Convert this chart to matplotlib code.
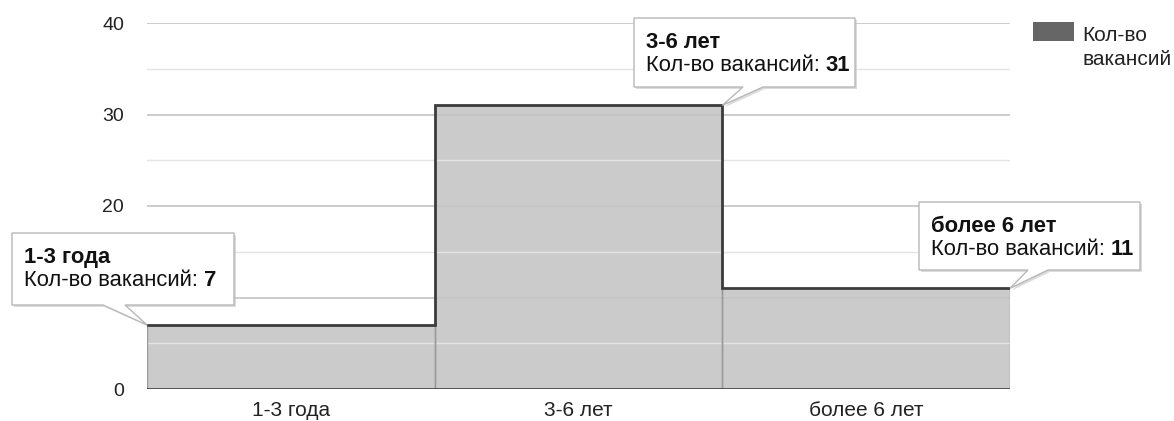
import matplotlib
matplotlib.use("Agg")
import matplotlib.pyplot as plt
from matplotlib.patches import Polygon, Rectangle
from matplotlib.transforms import IdentityTransform
from matplotlib.ticker import MultipleLocator

plt.rcParams['font.family'] = ['Liberation Sans', 'DejaVu Sans']

categories = ["1-3 года", "3-6 лет", "более 6 лет"]
vacancies = [7, 31, 11]
series_name = "Кол-во вакансий"
legend_lines = ["Кол-во", "вакансий"]
y_ticks = [0, 10, 20, 30, 40]

W, H = 1174, 421
DPI = 100
fig = plt.figure(figsize=(W / DPI, H / DPI), dpi=DPI)
ax_left, ax_right, ax_top, ax_bottom = 147, 1010, 23, 389
ax = fig.add_axes([ax_left / W, (H - ax_bottom) / H,
                   (ax_right - ax_left) / W, (ax_bottom - ax_top) / H])

series_color = "#5e5e5e"
xs = list(range(len(categories)))

# stepped area: one filled block per category
ax.bar(xs, vacancies, width=1.0, color=series_color, alpha=0.32,
       edgecolor="none", zorder=2)
for i, v in zip(xs, vacancies):
    ax.plot([i - 0.5, i - 0.5], [0, v], color="#9a9a9a", lw=1.0, zorder=3)
    ax.plot([i + 0.5, i + 0.5], [0, v], color="#9a9a9a", lw=1.0, zorder=3)

# connected step outline
step_x, step_y = [], []
for i, v in zip(xs, vacancies):
    step_x += [i - 0.5, i + 0.5]
    step_y += [v, v]
ax.plot(step_x, step_y, color="#3c3c3c", lw=2.0, zorder=4,
        solid_joinstyle="miter")

ax.set_xlim(-0.5, len(categories) - 0.5)
ax.set_ylim(0, 40)
ax.set_yticks(y_ticks)
ax.yaxis.set_minor_locator(MultipleLocator(5))
ax.set_xticks(xs)
ax.set_xticklabels(categories)
ax.tick_params(axis="both", which="both", length=0, colors="#222222")
ax.tick_params(axis="y", labelsize=14, pad=16.5)
ax.tick_params(axis="x", labelsize=15, pad=8.5)
ax.grid(axis="y", which="major", color="#c4c4c4", lw=1.2, zorder=1)
ax.grid(axis="y", which="minor", color="#e4e4e4", lw=1.0, zorder=1)
ax.set_axisbelow(False)
for s in ax.spines.values():
    s.set_visible(False)
ax.axhline(0, color="#333333", lw=1.8, zorder=5)

# legend
fig.patches.append(Rectangle((1033, H - 41), 41, 19, transform=IdentityTransform(),
                             facecolor="#666666", edgecolor="none", figure=fig))
for k, line in enumerate(legend_lines):
    fig.text(1082 / W, (H - 41 - 24 * k) / H, line, fontsize=15, color="#222222",
             va="baseline", ha="left")

fig.canvas.draw()
renderer = fig.canvas.get_renderer()


def tooltip(xd, yd, box, base, title, value):
    """box = (left, top, right, bottom) in image pixels; base = pointer base x span."""
    tx, ty = ax.transData.transform((xd, yd))
    l, t, r, b = box
    t, b = H - t, H - b
    b0, b1 = base
    pts = [(l, t), (r, t), (r, b), (b1, b), (tx, ty), (b0, b), (l, b)]
    shadow = [(px + 2, py - 2) for px, py in pts]
    fig.patches.append(Polygon(shadow, closed=True, transform=IdentityTransform(),
                               facecolor="#c4c4c4", edgecolor="none", alpha=0.6,
                               figure=fig, zorder=10))
    fig.patches.append(Polygon(pts, closed=True, transform=IdentityTransform(),
                               facecolor="white", edgecolor="#b8b8b8", lw=1.0,
                               figure=fig, zorder=11))
    fig.text((l + 12) / W, (t - 30) / H, title, fontsize=15.8, fontweight="bold",
             color="#111111", va="baseline", ha="left", zorder=12)
    lbl = fig.text((l + 12) / W, (t - 53) / H, series_name + ": ", fontsize=15.8,
                   color="#111111", va="baseline", ha="left", zorder=12)
    bb = lbl.get_window_extent(renderer=renderer)
    fig.text(bb.x1 / W, (t - 53) / H, str(value), fontsize=15.8, fontweight="bold",
             color="#111111", va="baseline", ha="left", zorder=12)


tooltip(-0.5, vacancies[0], (12, 233, 234, 305), (103, 125), categories[0], vacancies[0])
tooltip(1.5, vacancies[1], (634, 18, 855, 87), (743, 763), categories[1], vacancies[1])
tooltip(2.5, vacancies[2], (919, 202, 1140, 270), (1028, 1048), categories[2], vacancies[2])

fig.savefig("out.png", dpi=DPI, facecolor="white")
